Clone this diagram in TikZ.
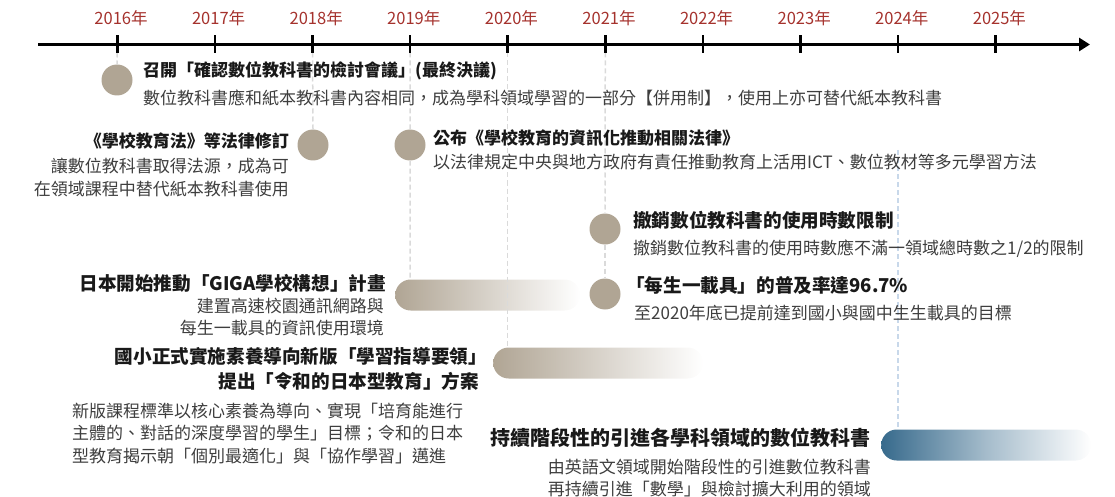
\documentclass[tikz,border=0pt]{standalone}
\usepackage{fontspec}
\setmainfont{Noto Sans CJK TC}[Language=Chinese Traditional]
\usetikzlibrary{arrows.meta}

\definecolor{yearred}{RGB}{165,50,45}
\definecolor{taupe}{RGB}{176,165,148}
\definecolor{steel}{RGB}{55,106,140}
\definecolor{guidegray}{RGB}{218,218,218}
\definecolor{guideblue}{RGB}{200,216,234}
\definecolor{bodygray}{RGB}{62,62,62}

\begin{document}
\begin{tikzpicture}[x=1pt,y=-1pt,
  every node/.style={inner sep=0pt},
  yearlbl/.style={text=yearred,font=\fontsize{16.5}{18}\selectfont},
  dot/.style={circle,fill=taupe,minimum size=31pt},
  guide/.style={guidegray,line width=1.5pt,dash pattern=on 5pt off 3pt},
  bar/.style={shade,left color=taupe,middle color=taupe!72,right color=white,
    rounded corners=15.5pt,minimum height=31pt,anchor=west},
  head/.style={text=black!90,font=\fontsize{17}{21}\selectfont\bfseries},
  bighead/.style={text=black!90,font=\fontsize{18.6}{25}\selectfont\bfseries},
  body/.style={text=bodygray,font=\fontsize{17}{22.5}\selectfont}]
\useasboundingbox (0,0) rectangle (1115,497);

% years
\foreach \yr [count=\i from 0] in {2016,...,2025} {
  \coordinate (t\yr) at (117.3+97.6*\i,44.5);
  \node[yearlbl] (y\yr) at (121+97.6*\i,18) {\yr{}年};
}

% events
\node[dot] (c16) at (117,80) {};
\node[dot] (c18) at (313,145) {};
\node[dot] (c19) at (410,145) {};
\node[dot] (c21a) at (605,229) {};
\node[dot] (c21b) at (605,294) {};
\node[bar,minimum width=185pt] (bar19) at (395,295) {};
\node[bar,minimum width=210pt] (bar20) at (493,363) {};
\node[bar,left color=steel,middle color=steel!45,minimum width=210pt] (bar24) at (881,445) {};

\draw[guide] (t2016) -- (c16.north);
\draw[guide] (t2018) -- (c18.north);
\draw[guide] (t2019) -- (c19.north);
\draw[guide] (c19.south) -- (t2019 |- bar19.north);
\draw[guide] (t2020) -- (t2020 |- bar20.north);
\draw[guide] (t2021) -- (c21a.north);
\draw[guide] (c21a.south) -- (c21b.north);
\draw[guide,guideblue] (898,150) -- (898,445 |- bar24.north);

% axis
\draw[line width=3pt,-{Triangle[length=11pt,width=13pt]}] (38,44.5) -- (1090,44.5);
\foreach \yr in {2016,...,2025}
  \draw[line width=2.5pt] ([yshift=9pt]t\yr) -- ([yshift=-9pt]t\yr);

% texts
\node[head,anchor=west] (h16) at (143,71) {召開「確認數位教科書的檢討會議」(最終決議)};
\node[body,anchor=west] (b16) at (143,98) {數位教科書應和紙本教科書內容相同，成為學科領域學習的一部分【併用制】，使用上亦可替代紙本教科書};
\node[head,anchor=east] (h18) at (289,141) {《學校教育法》等法律修訂};
\node[body,anchor=east,align=right] (b18) at (289,177.5) {讓數位教科書取得法源，成為可\\在領域課程中替代紙本教科書使用};
\node[head,anchor=west] (h19) at (433,138) {公布《學校教育的資訊化推動相關法律》};
\node[body,anchor=west] (b19) at (433,162) {以法律規定中央與地方政府有責任推動教育上活用ICT、數位教材等多元學習方法};
\node[bighead,anchor=west] (h21a) at (633,220) {撤銷數位教科書的使用時數限制};
\node[body,anchor=west] (b21a) at (633,249) {撤銷數位教科書的使用時數應不滿一領域總時數之1/2的限制};
\node[bighead,anchor=west] (h21b) at (626,286) {「每生一載具」的普及率達96.7\%};
\node[body,anchor=west] (b21b) at (634,313) {至2020年底已提前達到國小與國中生生載具的目標};
\node[bighead,anchor=east] (h19g) at (386,283) {日本開始推動「GIGA學校構想」計畫};
\node[body,anchor=east,align=right] (b19g) at (384,317) {建置高速校園通訊網路與\\每生一載具的資訊使用環境};
\node[bighead,anchor=east,align=right] (h20) at (479,368.5) {國小正式實施素養導向新版「學習指導要領」\kern-8pt\\提出「令和的日本型教育」方案};
\node[body,anchor=west,align=left] (b20) at (72,433) {新版課程標準以核心素養為導向、實現「培育能進行\\主體的、對話的深度學習的學生」目標；令和的日本\\型教育揭示朝「個別最適化」與「協作學習」邁進};
\node[text=black!90,font=\fontsize{20}{24}\selectfont\bfseries,anchor=east] (h24) at (871,438) {持續階段性的引進各學科領域的數位教科書};
\node[body,anchor=east,align=right] (b24) at (871,478) {由英語文領域開始階段性的引進數位教科書\\再持續引進「數學」與檢討擴大利用的領域};
\end{tikzpicture}
\end{document}
